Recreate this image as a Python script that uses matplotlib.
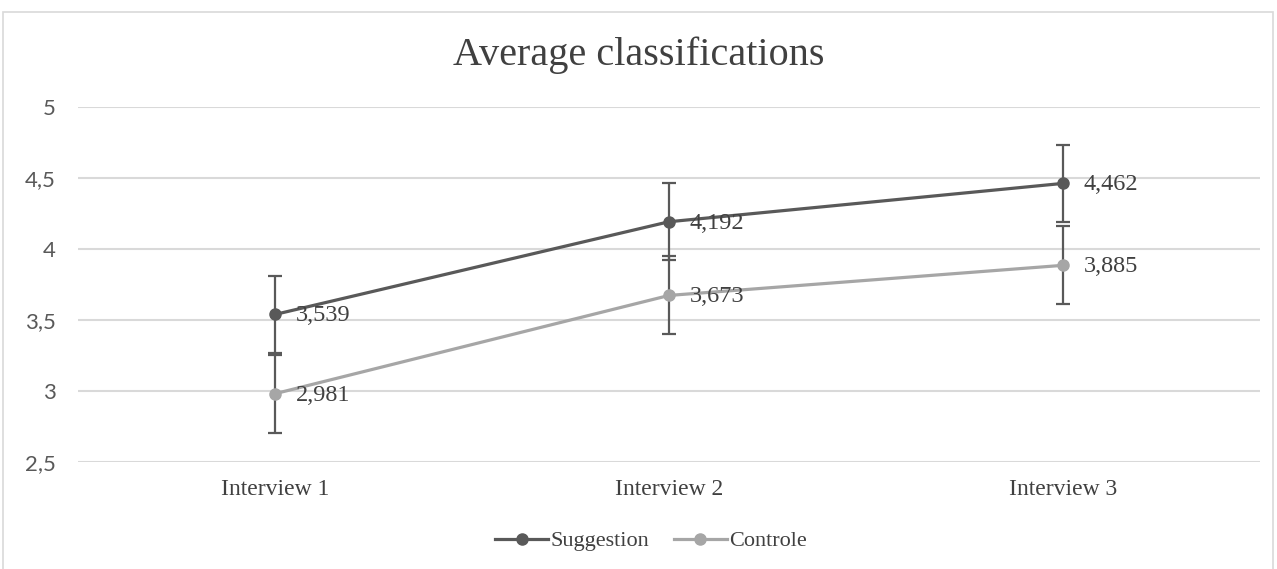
import matplotlib
matplotlib.use("Agg")
import matplotlib.pyplot as plt
from matplotlib.patches import Rectangle

categories = ["Interview 1", "Interview 2", "Interview 3"]
suggestion = [3.539, 4.192, 4.462]
controle = [2.981, 3.673, 3.885]
suggestion_err = [0.272, 0.272, 0.272]
controle_err = [0.275, 0.275, 0.275]
yticks = [2.5, 3, 3.5, 4, 4.5, 5]
ytick_labels = ["2,5", "3", "3,5", "4", "4,5", "5"]

serif = "Liberation Serif"
sans = "Lato"

fig = plt.figure(figsize=(12.77, 5.69), dpi=100)
fig.patches.append(Rectangle((3 / 1277, -0.01), 1270 / 1277, 1 - 12 / 569 + 0.01,
                             transform=fig.transFigure, fill=False,
                             edgecolor="#D9D9D9", linewidth=1.2))
ax = fig.add_axes([78 / 1277, 1 - 462 / 569, 1182 / 1277, 355 / 569])

x = list(range(len(categories)))
series = [("Suggestion", suggestion, suggestion_err, "#595959"),
          ("Controle", controle, controle_err, "#A6A6A6")]
handles = []
for name, vals, err, col in series:
    ax.errorbar(x, vals, yerr=err, fmt="none", ecolor="#595959",
                elinewidth=1.6, capsize=5, capthick=1.6, zorder=3)
    h, = ax.plot(x, vals, color=col, linewidth=2.3, marker="o",
                 markersize=8, label=name, zorder=4)
    handles.append(h)
    for xi, v in zip(x, vals):
        ax.annotate(f"{v:.3f}".replace(".", ","), (xi, v), xytext=(15, -1),
                    textcoords="offset points", va="center", ha="left",
                    fontsize=17.5, family=serif, color="#404040", zorder=5)

ax.set_xlim(-0.5, 2.5)
ax.set_ylim(2.5, 5)
ax.set_yticks(yticks)
ax.set_yticklabels(ytick_labels, fontsize=16, family=sans, color="#595959")
ax.set_xticks(x)
ax.set_xticklabels(categories, fontsize=17, family=serif, color="#404040")
ax.tick_params(axis="both", length=0)
ax.tick_params(axis="y", pad=16)
ax.tick_params(axis="x", pad=12)
for s in ax.spines.values():
    s.set_visible(False)
ax.grid(axis="y", color="#D9D9D9", linewidth=1.5)
ax.set_axisbelow(True)

fig.text(0.5, 1 - 55 / 569, "Average classifications", ha="center", va="center",
         fontsize=29, family=serif, color="#404040")

fig.legend(handles=handles, loc="center", bbox_to_anchor=(651 / 1277, 1 - 541 / 569),
           ncol=2, frameon=False, handlelength=2.4, handletextpad=0.1,
           columnspacing=1.1, prop={"family": serif, "size": 16},
           labelcolor="#404040")

fig.savefig("out.png", dpi=100)
